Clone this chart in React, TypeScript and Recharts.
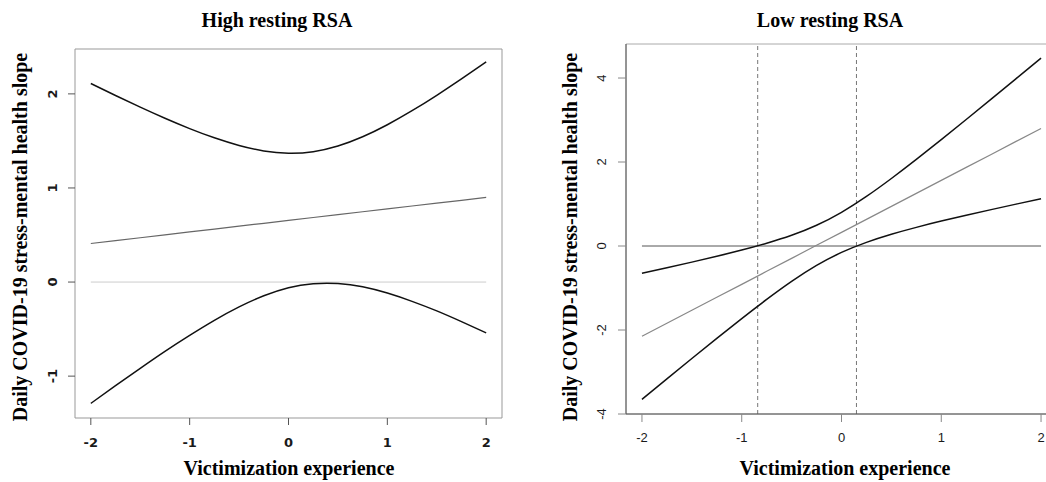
import { LineChart, Line, XAxis, YAxis, ReferenceLine, ReferenceArea } from "recharts";

// victimization experience grid
const xValues = [-2, -1.75, -1.5, -1.25, -1, -0.75, -0.5, -0.25, 0, 0.25, 0.5, 0.75, 1, 1.25, 1.5, 1.75, 2];
const xTicks = [-2, -1, 0, 1, 2];

// High resting RSA panel
const highUpper = [2.11, 1.983, 1.859, 1.741, 1.631, 1.533, 1.452, 1.394, 1.37, 1.386, 1.446, 1.544, 1.672, 1.821, 1.985, 2.159, 2.34];
const highEstimate = [0.41, 0.441, 0.471, 0.502, 0.533, 0.563, 0.594, 0.624, 0.655, 0.686, 0.716, 0.747, 0.778, 0.808, 0.839, 0.869, 0.9];
const highLower = [-1.29, -1.101, -0.917, -0.737, -0.567, -0.407, -0.264, -0.146, -0.06, -0.018, -0.016, -0.05, -0.117, -0.205, -0.307, -0.421, -0.54];
const highYTicks = [-1, 0, 1, 2];

// Low resting RSA panel
const lowUpper = [-0.649, -0.519, -0.384, -0.245, -0.097, 0.067, 0.256, 0.495, 0.803, 1.181, 1.608, 2.062, 2.533, 3.012, 3.496, 3.985, 4.475];
const lowEstimate = [-2.15, -1.841, -1.531, -1.222, -0.913, -0.603, -0.294, 0.016, 0.325, 0.634, 0.944, 1.253, 1.563, 1.872, 2.181, 2.491, 2.8];
const lowLower = [-3.651, -3.163, -2.678, -2.199, -1.728, -1.273, -0.844, -0.463, -0.153, 0.087, 0.28, 0.444, 0.593, 0.732, 0.866, 0.997, 1.125];
const lowYTicks = [-4, -2, 0, 2, 4];
const jnBounds = [-0.84, 0.15]; // Johnson-Neyman region of significance

const serif = "'Liberation Serif', 'Times New Roman', serif";

function buildRows(upper: number[], est: number[], lower: number[]) {
  return xValues.map((x, i) => ({ x, upper: upper[i], est: est[i], lower: lower[i] }));
}

interface PanelProps {
  left: number;
  width: number;
  margin: { top: number; right: number; bottom: number; left: number };
  upper: number[];
  est: number[];
  lower: number[];
  yDomain: [number, number];
  yTicks: number[];
  tickFont: string;
  tickWeight: number;
  tickSize: number;
  tickColor: string;
  boxColor: string;
  axisColor?: string;
  zeroColor: string;
  estColor: string;
  xLabelDy: number;
  yLabelDx: number;
  vlines?: number[];
}

function Panel(p: PanelProps) {
  const data = buildRows(p.upper, p.est, p.lower);
  const tickStyle = { fontFamily: p.tickFont, fontWeight: p.tickWeight, fontSize: 13, fill: "#1a1a1a" };
  return (
    <div style={{ position: "absolute", left: p.left, top: 0 }}>
      <LineChart width={p.width} height={482} data={data} margin={p.margin}>
        <XAxis
          dataKey="x"
          type="number"
          domain={[-2.16, 2.16]}
          ticks={xTicks}
          allowDataOverflow
          height={30}
          tickSize={p.tickSize}
          axisLine={p.axisColor ? { stroke: p.axisColor } : false}
          tickLine={{ stroke: p.tickColor }}
          tick={(t: any) => (
            <text x={t.x} y={t.y + p.xLabelDy} textAnchor="middle" style={tickStyle}>
              {String(t.payload.value)}
            </text>
          )}
        />
        <YAxis
          type="number"
          domain={p.yDomain}
          ticks={p.yTicks}
          allowDataOverflow
          width={30}
          tickSize={p.tickSize}
          axisLine={p.axisColor ? { stroke: p.axisColor } : false}
          tickLine={{ stroke: p.tickColor }}
          tick={(t: any) => (
            <text
              x={0}
              y={0}
              transform={`translate(${t.x + p.yLabelDx},${t.y}) rotate(-90)`}
              textAnchor="middle"
              style={tickStyle}
            >
              {String(t.payload.value)}
            </text>
          )}
        />
        <ReferenceArea
          x1={-2.16}
          x2={2.16}
          y1={p.yDomain[0]}
          y2={p.yDomain[1]}
          fill="none"
          stroke={p.boxColor}
          strokeWidth={1}
          ifOverflow="visible"
        />
        <ReferenceLine
          segment={[{ x: -2, y: 0 }, { x: 2, y: 0 }]}
          stroke={p.zeroColor}
          strokeWidth={1}
        />
        {(p.vlines || []).map((v) => (
          <ReferenceLine key={v} x={v} stroke="#777" strokeDasharray="4 3" strokeWidth={1} />
        ))}
        <Line dataKey="est" type="linear" stroke={p.estColor} strokeWidth={1.2} dot={false} isAnimationActive={false} />
        <Line dataKey="upper" type="natural" stroke="#111" strokeWidth={1.5} dot={false} isAnimationActive={false} />
        <Line dataKey="lower" type="natural" stroke="#111" strokeWidth={1.5} dot={false} isAnimationActive={false} />
      </LineChart>
    </div>
  );
}

function Txt({ x, y, text, rotate }: { x: number; y: number; text: string; rotate?: boolean }) {
  return (
    <div
      style={{
        position: "absolute",
        left: x,
        top: y,
        transform: `translate(-50%, -50%)${rotate ? " rotate(-90deg)" : ""}`,
        fontFamily: serif,
        fontWeight: 700,
        fontSize: 20,
        lineHeight: 1,
        whiteSpace: "nowrap",
        color: "#000",
      }}
    >
      {text}
    </div>
  );
}

export default function App() {
  const yTitle = "Daily COVID-19 stress-mental health slope";
  return (
    <div
      style={{
        position: "fixed",
        left: 0,
        top: 0,
        width: 1046,
        height: 482,
        overflow: "hidden",
        background: "#fff",
      }}
    >
      <Panel
        left={0}
        width={520}
        margin={{ top: 49, right: 18, bottom: 34, left: 45 }}
        upper={highUpper}
        est={highEstimate}
        lower={highLower}
        yDomain={[-1.445, 2.477]}
        yTicks={highYTicks}
        tickFont="'DejaVu Sans', sans-serif"
        tickWeight={700}
        tickSize={7}
        tickColor="#555"
        boxColor="#999"
        zeroColor="#ccc"
        estColor="#666"
        xLabelDy={19.5}
        yLabelDx={-9.5}
      />
      <Panel
        left={526}
        width={540}
        margin={{ top: 44, right: 9, bottom: 38, left: 70 }}
        upper={lowUpper}
        est={lowEstimate}
        lower={lowLower}
        yDomain={[-4.0, 4.81]}
        yTicks={lowYTicks}
        tickFont="'Liberation Sans', Arial, sans-serif"
        tickWeight={400}
        tickSize={8}
        tickColor="#888"
        boxColor="#aaa"
        axisColor="#555"
        zeroColor="#555"
        estColor="#888"
        xLabelDy={18}
        yLabelDx={-10.5}
        vlines={jnBounds}
      />
      <Txt x={277} y={20} text="High resting RSA" />
      <Txt x={20} y={237} text={yTitle} rotate />
      <Txt x={289} y={468} text="Victimization experience" />
      <Txt x={830} y={20} text="Low resting RSA" />
      <Txt x={570} y={237} text={yTitle} rotate />
      <Txt x={845} y={468} text="Victimization experience" />
    </div>
  );
}
